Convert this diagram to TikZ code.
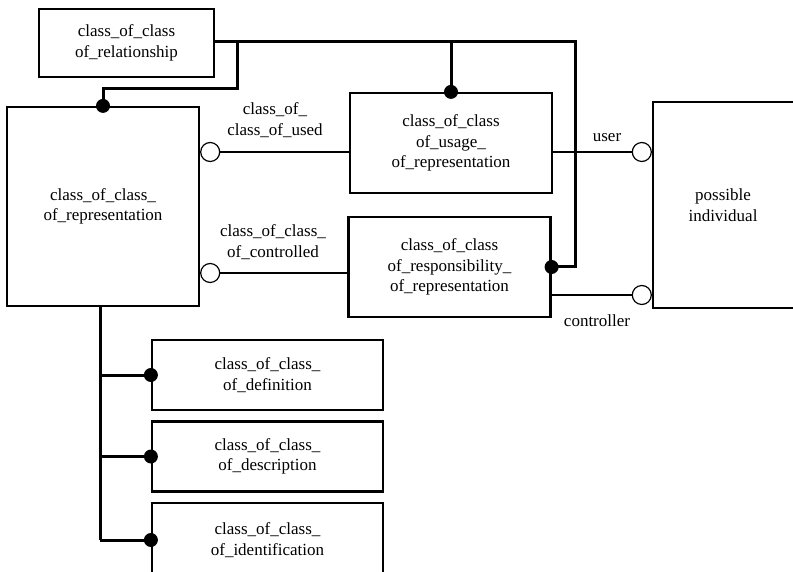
\documentclass[tikz,border=0pt]{standalone}
\usepackage{fontspec}
\setmainfont{Liberation Serif}
\begin{document}
\begin{tikzpicture}[x=1pt,y=-1pt,
  entity/.style={draw, line width=2.2pt, inner sep=0pt, align=center,
    font=\fontsize{17}{20.5}\selectfont},
  thickline/.style={line width=3pt},
  thinline/.style={line width=1.1pt},
  opencirc/.style={circle, draw, line width=1.2pt, fill=white,
    minimum size=19pt, inner sep=0pt},
  dot/.style={circle, fill=black, minimum size=14pt, inner sep=0pt},
  lbl/.style={align=center, inner sep=0pt, font=\fontsize{17}{20.5}\selectfont}]
\useasboundingbox (0,0) rectangle (793,572);
\clip (0,0) rectangle (793,572);

% entity boxes
\node[entity, minimum width=175pt, minimum height=68pt] (rel) at (126.5,43)
  {class\_of\_class\\of\_relationship};
\node[entity, minimum width=192pt, minimum height=199pt] (rep) at (103,206.5)
  {class\_of\_class\_\\of\_representation};
\node[entity, minimum width=202pt, minimum height=100pt] (use) at (451,143)
  {class\_of\_class\\of\_usage\_\\of\_representation};
\node[entity, minimum width=202pt, minimum height=100pt] (resp) at (449.5,267)
  {class\_of\_class\\of\_responsibility\_\\of\_representation};
% this box runs on past the right margin; its name sits left of its centre
\node[entity, minimum width=160pt, minimum height=206pt,
  label={[lbl, xshift=-10pt]center:{possible\\individual}}] (pi) at (733,205) {};
\node[entity, minimum width=231pt, minimum height=70pt] (def) at (267.5,375)
  {class\_of\_class\_\\of\_definition};
\node[entity, minimum width=231pt, minimum height=70pt] (desc) at (267.5,456.5)
  {class\_of\_class\_\\of\_description};
\node[entity, minimum width=231pt, minimum height=74pt] (ident) at (267.5,540)
  {class\_of\_class\_\\of\_identification};

% routing points of the thick connectors
\coordinate (top) at (575,42);
\coordinate (bend) at (237,89);
\coordinate (spine) at (100,540);
\coordinate (usedy) at (0,152);
\coordinate (ctly) at (0,273);
\coordinate (ctry) at (0,295);

% thick (supertype / subtype) connectors
\draw[thickline] (rel.east |- top) -- (top) |- (resp.east);
\draw[thickline] (use.north) -- (use.north |- top);
\draw[thickline] (bend |- top) -- (bend) -| (rep.north);
\draw[thickline] (rep.south -| spine) -- (spine);
\draw[thickline] (spine |- def.west) -- (def.west);
\draw[thickline] (spine |- desc.west) -- (desc.west);
\draw[thickline] (spine) -- (ident.west);

% role circles
\node[opencirc, anchor=west] (usedc) at (rep.east |- usedy) {};
\node[opencirc, anchor=west] (ctlc) at (rep.east |- ctly) {};
\node[opencirc, anchor=east] (userc) at (pi.west |- usedy) {};
\node[opencirc, anchor=east] (ctrc) at (pi.west |- ctry) {};

% thin (role) connectors
\draw[thinline] (usedc) -- (use.west |- usedc);
\draw[thinline] (use.east |- userc) -- (userc);
\draw[thinline] (ctlc) -- (resp.west |- ctlc);
\draw[thinline] (resp.east |- ctrc) -- (ctrc);

% connection dots
\node[dot] (d1) at (rep.north) {};
\node[dot] (d2) at (use.north) {};
\node[dot] (d3) at (resp.east) {};
\node[dot] (d4) at (def.west) {};
\node[dot] (d5) at (desc.west) {};
\node[dot] (d6) at (ident.west) {};

% role names
\node[lbl] (lused) at (275,120) {class\_of\_\\class\_of\_used};
\node[lbl] (lctl) at (273,242) {class\_of\_class\_\\of\_controlled};
\node[lbl] (luser) at (607,138) {user};
\node[lbl] (lctr) at (597,321) {controller};
\end{tikzpicture}
\end{document}
